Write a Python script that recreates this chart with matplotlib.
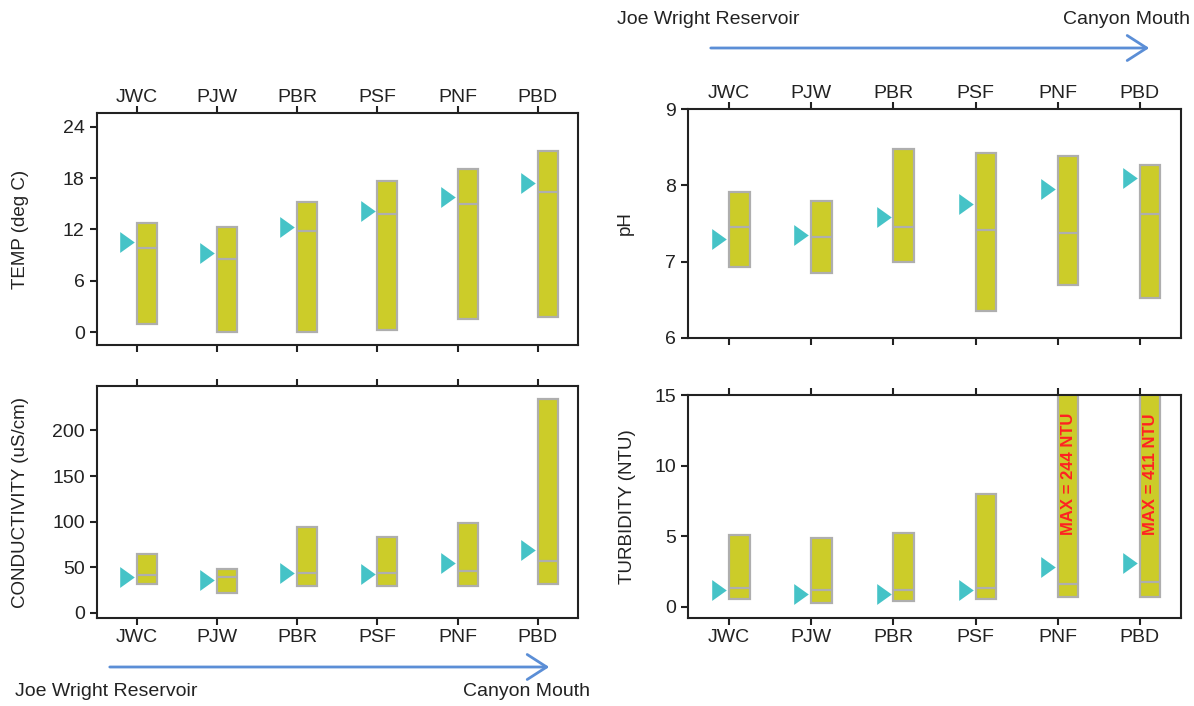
import matplotlib
matplotlib.use("Agg")
import matplotlib.pyplot as plt
import numpy as np

# station order, upstream -> downstream
sites = ["JWC", "PJW", "PBR", "PSF", "PNF", "PBD"]

temp_min = [1.0, 0.0, 0.0, 0.3, 1.5, 1.8]
temp_max = [12.8, 12.3, 15.2, 17.7, 19.1, 21.2]
temp_med = [9.8, 8.6, 11.8, 13.8, 15.0, 16.4]
temp_mean = [10.5, 9.3, 12.3, 14.1, 15.8, 17.4]

ph_min = [6.93, 6.85, 6.99, 6.36, 6.69, 6.52]
ph_max = [7.91, 7.79, 8.48, 8.42, 8.39, 8.26]
ph_med = [7.46, 7.32, 7.46, 7.41, 7.38, 7.62]
ph_mean = [7.30, 7.35, 7.59, 7.76, 7.95, 8.09]

cond_min = [31.8, 22.3, 29.3, 29.3, 29.3, 31.8]
cond_max = [64.7, 47.9, 94.3, 83.0, 98.4, 234.4]
cond_med = [41.7, 39.1, 44.2, 44.2, 45.7, 57.0]
cond_mean = [39.1, 36.6, 43.5, 42.4, 55.2, 68.7]

turb_min = [0.57, 0.28, 0.45, 0.57, 0.71, 0.71]
turb_max = [5.1, 4.9, 5.2, 8.0, 244, 411]
turb_med = [1.32, 1.18, 1.18, 1.32, 1.63, 1.77]
turb_mean = [1.2, 0.9, 0.9, 1.2, 2.83, 3.1]

BAR = "#CCCC29"
EDGE = "#AEAEAE"
TRI = "#45C3C7"
ARROW = "#5B8ED6"

plt.rcParams["font.family"] = ["Liberation Sans", "DejaVu Sans"]

fig = plt.figure(figsize=(11.94, 7.06), dpi=100)

W, H = 1194, 706
def axes_px(l, r, t, b):
    return fig.add_axes([l / W, 1 - b / H, (r - l) / W, (b - t) / H])

ax_t = axes_px(96.5, 578, 113, 345)
ax_c = axes_px(96.5, 578, 386, 618)
ax_p = axes_px(688, 1181, 109, 338)
ax_n = axes_px(688, 1181, 395, 618)

tri = [(-0.7, -1), (0.7, 0), (-0.7, 1), (-0.7, -1)]
x = np.arange(len(sites))

def panel(ax, lo, hi, med, mean, ylim, yticks, ylabel, top_labels, labx):
    w = 0.25
    ax.bar(x + w / 2, np.array(hi) - np.array(lo), bottom=lo, width=w,
           color=BAR, edgecolor=EDGE, linewidth=1.6, zorder=2)
    ax.hlines(med, x, x + w, color=EDGE, linewidth=1.6, zorder=3)
    ax.plot(x - 0.12, mean, linestyle="none", marker=tri, markersize=15,
            color=TRI, markeredgewidth=0, zorder=3)
    ax.set_xlim(-0.5, 5.5)
    ax.set_ylim(*ylim)
    ax.set_yticks(yticks)
    ax.set_xticks(x)
    ax.set_xticklabels(sites)
    ax.tick_params(axis="both", direction="out", length=5, width=1.5,
                   labelsize=14, colors="#222222")
    ax.tick_params(axis="x", top=True, bottom=True,
                   labeltop=top_labels, labelbottom=not top_labels,
                   pad=0 if top_labels else 3)
    for s in ax.spines.values():
        s.set_linewidth(1.5)
        s.set_color("#222222")
    ax.set_ylabel(ylabel, fontsize=13.5, color="#222222")
    ax.yaxis.set_label_coords(labx, 0.5)

panel(ax_t, temp_min, temp_max, temp_med, temp_mean, (-1.5, 25.6),
      [0, 6, 12, 18, 24], "TEMP (deg C)", True, -0.140)
panel(ax_c, cond_min, cond_max, cond_med, cond_mean, (-5.5, 248.6),
      [0, 50, 100, 150, 200], "CONDUCTIVITY (uS/cm)", False, -0.140)
panel(ax_p, ph_min, ph_max, ph_med, ph_mean, (6, 9),
      [6, 7, 8, 9], "pH", True, -0.110)
panel(ax_n, turb_min, turb_max, turb_med, turb_mean, (-0.78, 15),
      [0, 5, 10, 15], "TURBIDITY (NTU)", False, -0.106)

# the two huge turbidity maxima are clipped, so label them
for i in [4, 5]:
    ax_n.text(x[i] + 0.125, 9.4, f"MAX = {turb_max[i]} NTU", rotation=90,
              ha="center", va="center", color="#FF2222", fontsize=12,
              fontweight="bold", zorder=4)

# upstream -> downstream arrows
def flow_arrow(x0, x1, y):
    fig.add_artist(matplotlib.patches.FancyArrowPatch(
        (x0 / W, 1 - y / H), (x1 / W, 1 - y / H), transform=fig.transFigure,
        arrowstyle="->,head_length=7,head_width=4.5", color=ARROW,
        linewidth=2, mutation_scale=2))

flow_arrow(708, 1152, 48)
flow_arrow(107, 552, 667)

fig.text(617 / W, 1 - 20 / H, "Joe Wright Reservoir", ha="left", va="center",
         fontsize=14, color="#222222")
fig.text(1190 / W, 1 - 20 / H, "Canyon Mouth", ha="right", va="center",
         fontsize=14, color="#222222")
fig.text(15 / W, 1 - 692 / H, "Joe Wright Reservoir", ha="left", va="center",
         fontsize=14, color="#222222")
fig.text(590 / W, 1 - 692 / H, "Canyon Mouth", ha="right", va="center",
         fontsize=14, color="#222222")

fig.savefig("out.png", dpi=100)
